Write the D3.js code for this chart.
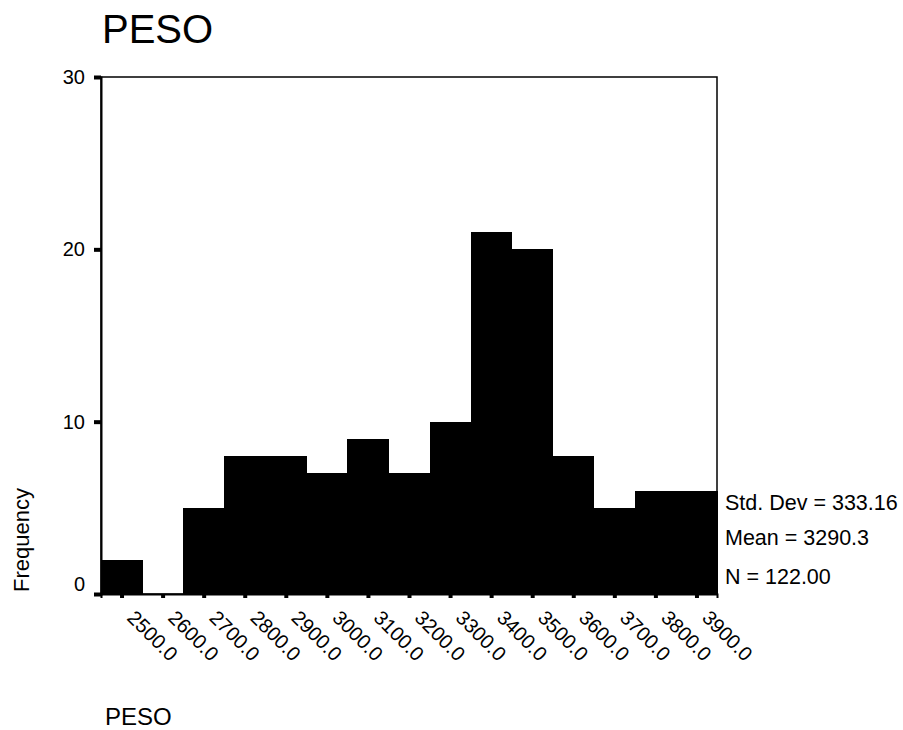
<!DOCTYPE html>
<html>
<head>
<meta charset="utf-8">
<script src="https://cdn.jsdelivr.net/npm/d3@7"></script>
<style>
  html, body { margin: 0; padding: 0; background: #fff; }
  text { font-family: "Liberation Sans", Arial, sans-serif; fill: #000; }
</style>
</head>
<body>
<svg id="chart" width="903" height="730"></svg>
<script>
// ---- data ----
const binCenters = [2500, 2600, 2700, 2800, 2900, 3000, 3100, 3200, 3300, 3400, 3500, 3600, 3700, 3800, 3900];
const frequencies = [2, 0, 5, 8, 8, 7, 9, 7, 10, 21, 20, 8, 5, 6, 6];
const binWidth = 100;
const yTicks = [0, 10, 20, 30];
const xTickLabels = ["2500.0","2600.0","2700.0","2800.0","2900.0","3000.0","3100.0","3200.0","3300.0","3400.0","3500.0","3600.0","3700.0","3800.0","3900.0"];
const statsLines = ["Std. Dev = 333.16", "Mean = 3290.3", "N = 122.00"];
const titleText = "PESO";
const xAxisTitle = "PESO";
const yAxisTitle = "Frequency";

// ---- layout ----
const svg = d3.select("#chart");
const plotL = 101, plotR = 717, plotT = 77, plotB = 594;

const x = d3.scaleLinear().domain([2450, 3950]).range([plotL, plotR]);
const y = d3.scaleLinear().domain([0, 30]).range([plotB, plotT]);

// bars
svg.append("g").attr("shape-rendering", "crispEdges").selectAll("rect")
  .data(binCenters.map((c, i) => ({c, v: frequencies[i]})))
  .join("rect")
  .attr("x", d => x(d.c - binWidth / 2))
  .attr("width", d => x(d.c + binWidth / 2) - x(d.c - binWidth / 2) + 0.5)
  .attr("y", d => y(d.v))
  .attr("height", d => y(0) - y(d.v))
  .attr("fill", "#000");

// frame
svg.append("rect")
  .attr("x", plotL).attr("y", plotT)
  .attr("width", plotR - plotL).attr("height", plotB - plotT)
  .attr("fill", "none").attr("stroke", "#000").attr("stroke-width", 1.5);

// y axis ticks
const yAxis = d3.axisLeft(y).tickValues(yTicks).tickSize(7).tickPadding(9).tickFormat(d3.format("d"));
const gy = svg.append("g").attr("transform", `translate(${plotL},0)`).call(yAxis);
gy.select(".domain").attr("stroke", "#000").attr("stroke-width", 2);
gy.selectAll(".tick line").attr("stroke", "#000").attr("stroke-width", 4);
gy.selectAll(".tick text")
  .style("font-size", "20px")
  .style("font-family", "'Liberation Sans', Arial, sans-serif")
  .attr("dy", d => d === 0 ? "-0.2em" : "0.32em");

// x axis ticks
const xAxis = d3.axisBottom(x).tickValues(binCenters).tickSize(4).tickFormat((d, i) => xTickLabels[i]);
const gx = svg.append("g").attr("transform", `translate(0,${plotB})`).call(xAxis);
gx.select(".domain").attr("stroke", "#000").attr("stroke-width", 2);
gx.selectAll(".tick line").attr("stroke", "#000").attr("stroke-width", 4);
gx.selectAll(".tick text")
  .style("font-size", "20px")
  .style("font-family", "'Liberation Sans', Arial, sans-serif")
  .attr("text-anchor", "start")
  .attr("x", 0).attr("y", 0).attr("dy", 0)
  .attr("transform", "translate(4,25) rotate(45)");

// title
svg.append("text").attr("x", 102).attr("y", 43)
  .style("font-size", "40px").text(titleText);

// x axis title
svg.append("text").attr("x", 105).attr("y", 725)
  .style("font-size", "24px").text(xAxisTitle);

// y axis title
svg.append("text")
  .attr("transform", "translate(29,592) rotate(-90)")
  .attr("text-anchor", "start")
  .style("font-size", "22px").text(yAxisTitle);

// stats
const statY = [510, 545, 584];
svg.append("g").selectAll("text").data(statsLines).join("text")
  .attr("x", 725).attr("y", (d, i) => statY[i])
  .style("font-size", "21.5px").text(d => d);
</script>
</body>
</html>
